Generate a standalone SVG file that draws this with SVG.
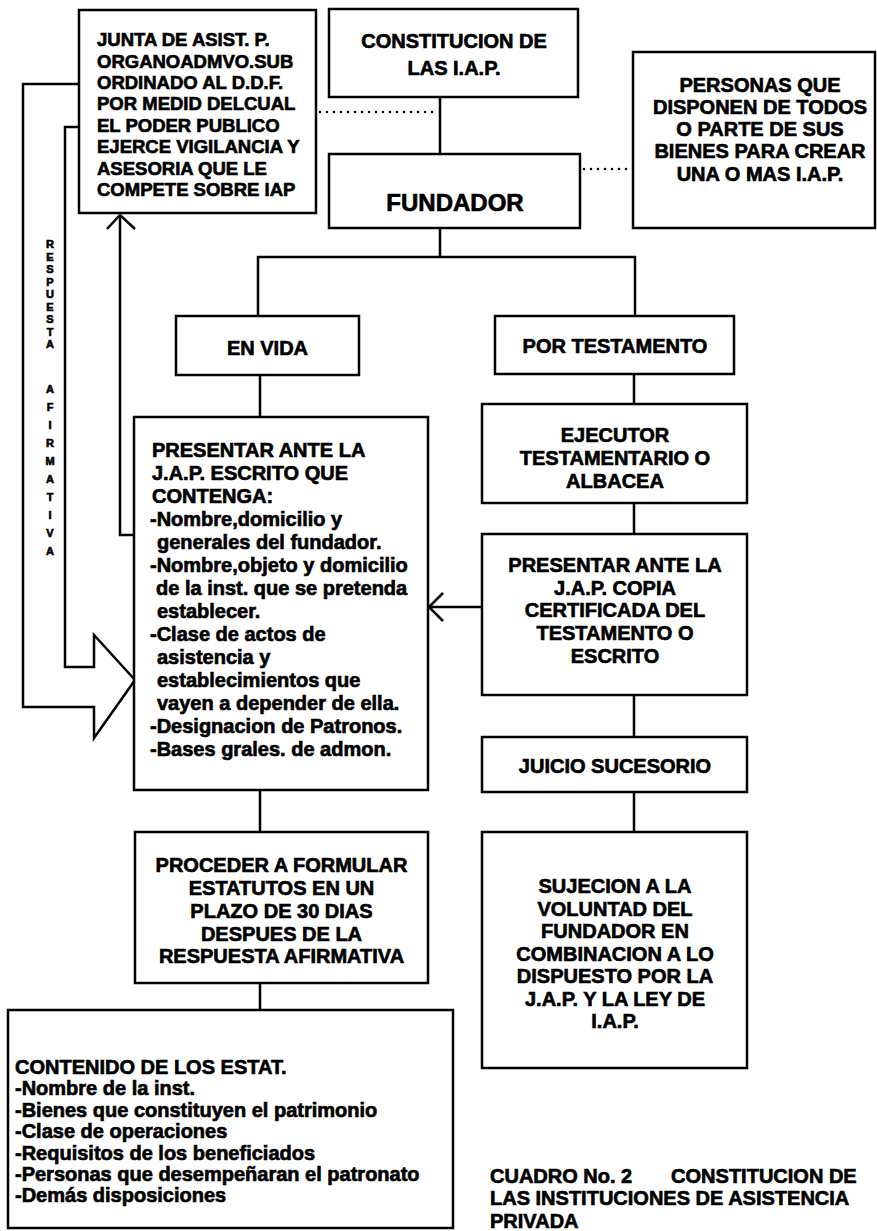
<svg xmlns="http://www.w3.org/2000/svg" width="877" height="1231" viewBox="0 0 877 1231">
<style>
.box{fill:#fff;stroke:#000;stroke-width:2.5}
.ln{fill:none;stroke:#000;stroke-width:2.5;stroke-linejoin:miter}
.dot{fill:none;stroke:#000;stroke-width:2.6;stroke-dasharray:0 7;stroke-linecap:round}
text{font-family:"Liberation Sans",Arial,sans-serif;font-weight:bold;fill:#000;stroke:#000;stroke-width:0.65}
.f20{font-size:20px}
.f19{font-size:18.5px}
.f24{font-size:24px}
.sm{font-size:11px;text-anchor:middle}
.c{text-anchor:middle}
</style>
<rect width="877" height="1231" fill="#fff"/>
<g id="connectors">
  <line class="dot" x1="320" y1="112" x2="436" y2="112"/>
  <line class="dot" x1="584" y1="169" x2="630" y2="169"/>
  <polyline class="ln" points="440,97 440,154"/>
  <polyline class="ln" points="440,228 440,257"/>
  <polyline class="ln" points="258,316 258,257 635,257 635,316"/>
  <polyline class="ln" points="260,375 260,417"/>
  <polyline class="ln" points="634,374 634,404"/>
  <polyline class="ln" points="634,503 634,534"/>
  <polyline class="ln" points="634,695 634,737"/>
  <polyline class="ln" points="634,792 634,832"/>
  <polyline class="ln" points="260,790 260,832"/>
  <polyline class="ln" points="260,983 260,1010"/>
  <polyline class="ln" points="482,607 429,607"/>
  <polyline class="ln" points="443,593 429,607 443,621"/>
  <polyline class="ln" points="134,535 120,535 120,215"/>
  <polyline class="ln" points="107,229 120,215 135,229"/>
  <path class="ln" d="M79,84 H23 V707 H94 V738 L135,680 L94,635 V667 H65 V127 H79"/>
</g>
<g id="respuesta">
  <text class="sm" x="50" y="248">R</text>
  <text class="sm" x="50" y="260.5">E</text>
  <text class="sm" x="50" y="273">S</text>
  <text class="sm" x="50" y="285.5">P</text>
  <text class="sm" x="50" y="298">U</text>
  <text class="sm" x="50" y="310.5">E</text>
  <text class="sm" x="50" y="323">S</text>
  <text class="sm" x="50" y="335.5">T</text>
  <text class="sm" x="50" y="348">A</text>
  <text class="sm" x="50" y="393">A</text>
  <text class="sm" x="50" y="411">F</text>
  <text class="sm" x="50" y="429">I</text>
  <text class="sm" x="50" y="447">R</text>
  <text class="sm" x="50" y="465">M</text>
  <text class="sm" x="50" y="483">A</text>
  <text class="sm" x="50" y="501">T</text>
  <text class="sm" x="50" y="519">I</text>
  <text class="sm" x="50" y="537">V</text>
  <text class="sm" x="50" y="555">A</text>
</g>
<g id="junta">
  <rect class="box" x="79" y="10" width="237" height="203"/>
  <text class="f19" x="97" y="46">JUNTA DE ASIST. P.</text>
  <text class="f19" x="97" y="68">ORGANOADMVO.SUB</text>
  <text class="f19" x="97" y="89">ORDINADO AL D.D.F.</text>
  <text class="f19" x="97" y="110">POR MEDID DELCUAL</text>
  <text class="f19" x="97" y="132">EL PODER PUBLICO</text>
  <text class="f19" x="97" y="153">EJERCE VIGILANCIA Y</text>
  <text class="f19" x="97" y="175">ASESORIA QUE LE</text>
  <text class="f19" x="97" y="196">COMPETE SOBRE IAP</text>
</g>
<g id="constitucion">
  <rect class="box" x="329" y="9" width="249" height="88"/>
  <text class="f20 c" x="454" y="48">CONSTITUCION DE</text>
  <text class="f20 c" x="454" y="75">LAS I.A.P.</text>
</g>
<g id="fundador">
  <rect class="box" x="329" y="154" width="251" height="74"/>
  <text class="f24 c" x="455" y="211">FUNDADOR</text>
</g>
<g id="personas">
  <rect class="box" x="633" y="52" width="242" height="176"/>
  <text class="f20 c" x="760" y="92">PERSONAS QUE</text>
  <text class="f20 c" x="760" y="114">DISPONEN DE TODOS</text>
  <text class="f20 c" x="760" y="136">O PARTE DE SUS</text>
  <text class="f20 c" x="760" y="158">BIENES PARA CREAR</text>
  <text class="f20 c" x="760" y="181">UNA O MAS I.A.P.</text>
</g>
<g id="envida">
  <rect class="box" x="176" y="316" width="183" height="59"/>
  <text class="f20 c" x="267.5" y="355">EN VIDA</text>
</g>
<g id="portestamento">
  <rect class="box" x="495" y="316" width="239" height="58"/>
  <text class="f20 c" x="615" y="353">POR TESTAMENTO</text>
</g>
<g id="presentar-jap">
  <rect class="box" x="134" y="417" width="294" height="373"/>
  <text class="f20" x="152" y="457">PRESENTAR ANTE LA</text>
  <text class="f20" x="152" y="480">J.A.P. ESCRITO QUE</text>
  <text class="f20" x="152" y="503">CONTENGA:</text>
  <text class="f20" x="150" y="526">-Nombre,domicilio y</text>
  <text class="f20" x="157" y="549">generales del fundador.</text>
  <text class="f20" x="150" y="572">-Nombre,objeto y domicilio</text>
  <text class="f20" x="156" y="595">de la inst. que se pretenda</text>
  <text class="f20" x="157" y="618">establecer.</text>
  <text class="f20" x="150" y="641">-Clase de actos de</text>
  <text class="f20" x="157" y="664">asistencia y</text>
  <text class="f20" x="157" y="687">establecimientos que</text>
  <text class="f20" x="157" y="710">vayen a depender de ella.</text>
  <text class="f20" x="150" y="733">-Designacion de Patronos.</text>
  <text class="f20" x="150" y="756">-Bases grales. de admon.</text>
</g>
<g id="ejecutor">
  <rect class="box" x="482" y="404" width="265" height="99"/>
  <text class="f20 c" x="615" y="442">EJECUTOR</text>
  <text class="f20 c" x="615" y="465">TESTAMENTARIO O</text>
  <text class="f20 c" x="615" y="488">ALBACEA</text>
</g>
<g id="presentar-copia">
  <rect class="box" x="482" y="534" width="265" height="161"/>
  <text class="f20 c" x="615" y="572">PRESENTAR ANTE LA</text>
  <text class="f20 c" x="615" y="595">J.A.P. COPIA</text>
  <text class="f20 c" x="615" y="617">CERTIFICADA DEL</text>
  <text class="f20 c" x="615" y="640">TESTAMENTO O</text>
  <text class="f20 c" x="615" y="663">ESCRITO</text>
</g>
<g id="juicio">
  <rect class="box" x="482" y="737" width="265" height="55"/>
  <text class="f20 c" x="615" y="773">JUICIO SUCESORIO</text>
</g>
<g id="sujecion">
  <rect class="box" x="482" y="832" width="265" height="236"/>
  <text class="f20 c" x="615" y="893">SUJECION A LA</text>
  <text class="f20 c" x="615" y="916">VOLUNTAD DEL</text>
  <text class="f20 c" x="615" y="938">FUNDADOR EN</text>
  <text class="f20 c" x="615" y="961">COMBINACION A LO</text>
  <text class="f20 c" x="615" y="983">DISPUESTO POR LA</text>
  <text class="f20 c" x="615" y="1006">J.A.P. Y LA LEY DE</text>
  <text class="f20 c" x="615" y="1028">I.A.P.</text>
</g>
<g id="proceder">
  <rect class="box" x="135" y="832" width="293" height="151"/>
  <text class="f20 c" x="281.5" y="872">PROCEDER A FORMULAR</text>
  <text class="f20 c" x="281.5" y="895">ESTATUTOS EN UN</text>
  <text class="f20 c" x="281.5" y="918">PLAZO DE 30 DIAS</text>
  <text class="f20 c" x="281.5" y="941">DESPUES DE LA</text>
  <text class="f20 c" x="281.5" y="963">RESPUESTA AFIRMATIVA</text>
</g>
<g id="contenido">
  <rect class="box" x="8" y="1010" width="445" height="218"/>
  <text class="f20" x="15" y="1074">CONTENIDO DE LOS ESTAT.</text>
  <text class="f20" x="15" y="1095">-Nombre de la inst.</text>
  <text class="f20" x="15" y="1117">-Bienes que constituyen el patrimonio</text>
  <text class="f20" x="15" y="1138">-Clase de operaciones</text>
  <text class="f20" x="15" y="1160">-Requisitos de los beneficiados</text>
  <text class="f20" x="15" y="1181">-Personas que desempeñaran el patronato</text>
  <text class="f20" x="15" y="1202">-Demás disposiciones</text>
</g>
<g id="caption">
  <text class="f20" x="490" y="1183" xml:space="preserve">CUADRO No. 2       CONSTITUCION DE</text>
  <text class="f20" x="490" y="1205">LAS INSTITUCIONES DE ASISTENCIA</text>
  <text class="f20" x="490" y="1228">PRIVADA</text>
</g>
</svg>
